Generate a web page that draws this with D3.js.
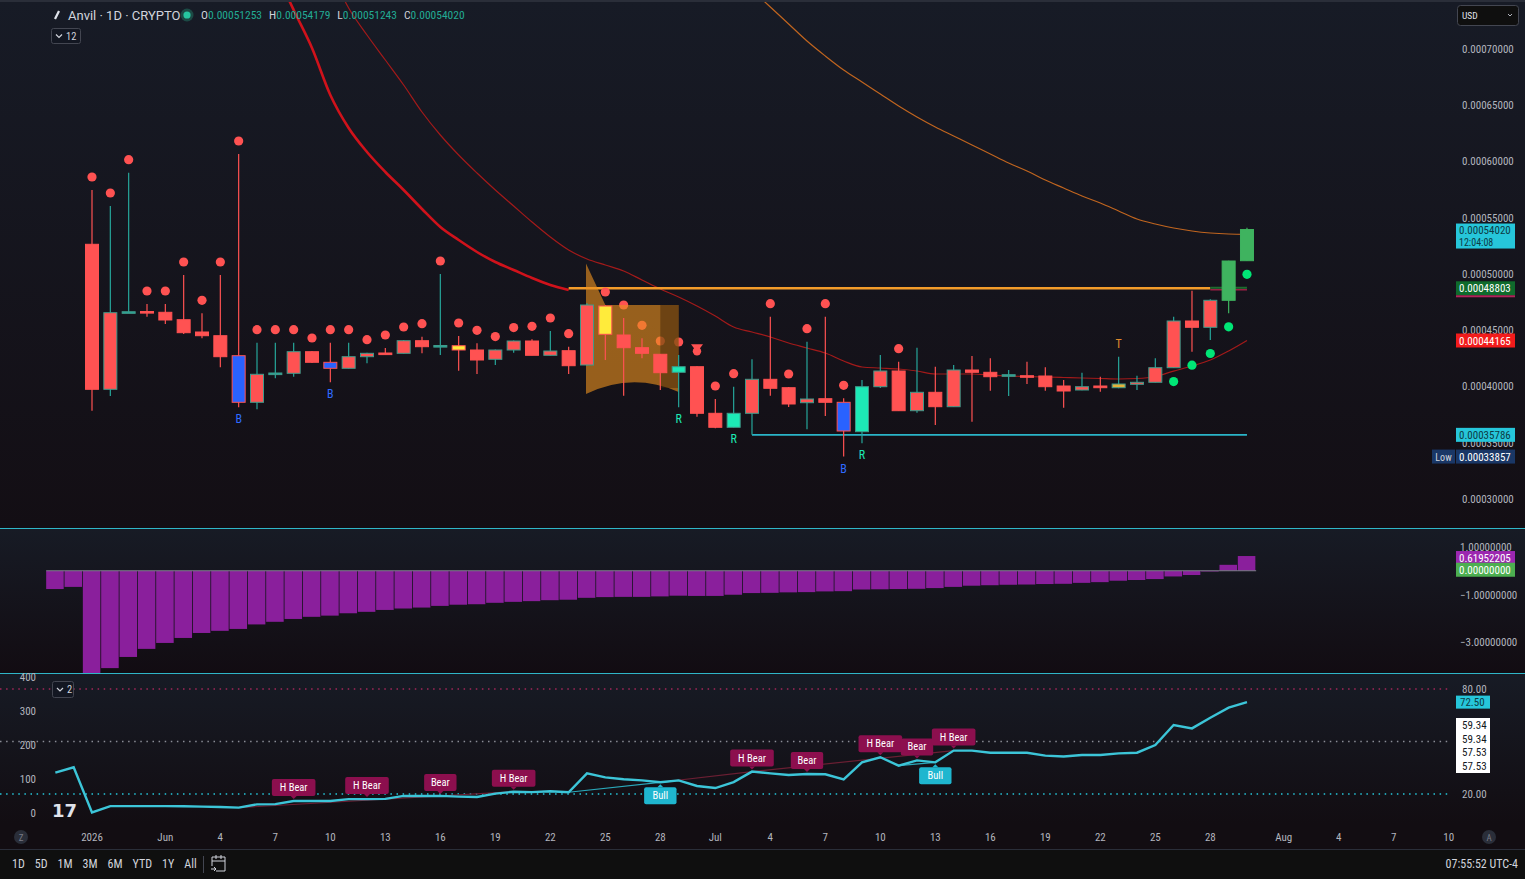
<!DOCTYPE html>
<html>
<head>
<meta charset="utf-8">
<script src="https://cdn.jsdelivr.net/npm/d3@7"></script>
<style>
  body { margin: 0; background: #131722; overflow: hidden; }
  text { font-family: "Liberation Sans Narrow", "Roboto Condensed", Roboto, sans-serif; }
</style>
</head>
<body>
<script>
// ---- data (prices) ----
var firstCandle = new Date(Date.UTC(2026, 4, 28));   // May 28
var firstIndicator = new Date(Date.UTC(2026, 4, 26)); // indicators start 2 bars earlier

var open  = [0.00052709,0.00039831,0.00046680,0.00046740,0.00046670,0.00046012,0.00044920,0.00044591,0.00042815,0.00038677,
             0.00041234,0.00041252,0.00043171,0.00042229,0.00041696,0.00042727,0.00043055,0.00043028,0.00044147,0.00043677,
             0.00043703,0.00043322,0.00042496,0.00043322,0.00044121,0.00042851,0.00043259,0.00041989,0.00047229,0.00044654,
             0.00043526,0.00042940,0.00041341,0.00041838,0.00037700,0.00036456,0.00037700,0.00040719,0.00039973,0.00038641,
             0.00038996,0.00038677,0.00036066,0.00040062,0.00041456,0.00037931,0.00039565,0.00038286,0.00041545,0.00041341,
             0.00041075,0.00041039,0.00041012,0.00040124,0.00039769,0.00040124,0.00039973,0.00040275,0.00040453,0.00041750,
             0.00045897,0.00045337,0.00047735,0.00051253];
var high  = [0.00057531,0.00056110,0.00059068,0.00047407,0.00047407,0.00049982,0.00046581,0.00049982,0.00060728,0.00043970,
             0.00043970,0.00043970,0.00043233,0.00043970,0.00043970,0.00043082,0.00043499,0.00044210,0.00044503,0.00050071,
             0.00044565,0.00043917,0.00043360,0.00044160,0.00044272,0.00045009,0.00043615,0.00047469,0.00047318,0.00046163,
             0.00044361,0.00042966,0.00042877,0.00041870,0.00038970,0.00040062,0.00042496,0.00046279,0.00040036,0.00044059,
             0.00046279,0.00039032,0.00040657,0.00042877,0.00042283,0.00043526,0.00041838,0.00041989,0.00042789,0.00042584,
             0.00041545,0.00042283,0.00041785,0.00040657,0.00041306,0.00040950,0.00042727,0.00041039,0.00042584,0.00046279,
             0.00048588,0.00047824,0.00051253,0.00054179];
var low   = [0.00037931,0.00039236,0.00046660,0.00046279,0.00045631,0.00044742,0.00044361,0.00041785,0.00038233,0.00038055,
             0.00040808,0.00040950,0.00042167,0.00040453,0.00041680,0.00042140,0.00042922,0.00043010,0.00043028,0.00042877,
             0.00041483,0.00041190,0.00041989,0.00043082,0.00042851,0.00042833,0.00041190,0.00041945,0.00042433,0.00039263,
             0.00042584,0.00039769,0.00038233,0.00037398,0.00036368,0.00036440,0.00035786,0.00039263,0.00038259,0.00036279,
             0.00037460,0.00033857,0.00035036,0.00039947,0.00037931,0.00037753,0.00036661,0.00038259,0.00036954,0.00039707,
             0.00039236,0.00040302,0.00039707,0.00038197,0.00039740,0.00039618,0.00039920,0.00039769,0.00040435,0.00041720,
             0.00043171,0.00044210,0.00046581,0.00051243];
var close = [0.00039831,0.00046634,0.00046720,0.00046696,0.00045986,0.00044858,0.00044591,0.00042727,0.00038677,0.00041163,
             0.00041279,0.00043171,0.00042229,0.00041696,0.00042727,0.00043028,0.00043002,0.00044147,0.00043615,0.00043721,
             0.00043322,0.00042433,0.00043322,0.00044121,0.00042851,0.00043233,0.00041927,0.00047318,0.00044716,0.00043526,
             0.00043028,0.00041306,0.00041838,0.00037700,0.00036456,0.00037700,0.00040719,0.00039920,0.00038526,0.00038970,
             0.00038677,0.00036128,0.00040062,0.00041456,0.00037931,0.00039565,0.00038286,0.00041545,0.00041341,0.00040950,
             0.00041128,0.00040986,0.00040062,0.00039680,0.00040062,0.00039973,0.00040302,0.00040453,0.00041750,0.00045897,
             0.00045337,0.00047735,0.00051226,0.00054020];
// bar colour from the trend indicator: r red, b blue, y yellow, o amber, a aqua, t teal, g green
var barColour = "rrtrrrrrbrtrrbrrrrrtyrrrrrrryrrrarrarrrrrbarrrrrrrtrrrrrorrrrrgg".split("");

var redDots   = [0,1,2,3,4,5,6,7,8,9,10,11,12,13,14,15,16,17,18,19,20,21,22,23,24,25,26,28,29,30,31,32,34,35,37,38,39,40,41,44];
var greenDots = [59,60,61,62,63];
var bearArrow = [33];
var letters = [{i:8, t:"B"}, {i:13, t:"B"}, {i:41, t:"B"}, {i:32, t:"R"}, {i:35, t:"R"}, {i:42, t:"R"}, {i:56, t:"T", above:true}];

// moving averages, [bar index, value]
var fastMA = [[9,0.00081000],[10,0.00077069],[11,0.00073517],[12,0.00070142],[13,0.00065968],[14,0.00063037],[15,0.00060906],
              [16,0.00059130],[17,0.00057531],[18,0.00055844],[19,0.00054245],[20,0.00053091],[21,0.00052025],[22,0.00051137],
              [23,0.00050426],[24,0.00049716],[25,0.00049094],[26,0.00048650]];
var midMA = [[13,0.00077000],[14,0.00073695],[15,0.00071297],[16,0.00069076],[17,0.00066856],[18,0.00064458],[19,0.00062416],
             [20,0.00060639],[21,0.00059041],[22,0.00057531],[23,0.00056110],[24,0.00054689],[25,0.00053357],[26,0.00052203],
             [27,0.00051403],[28,0.00050870],[29,0.00050337],[30,0.00049538],[31,0.00048739],[32,0.00048028],[33,0.00047229],
             [34,0.00046341],[35,0.00045364],[36,0.00044920],[37,0.00044476],[38,0.00043943],[39,0.00043499],[40,0.00043055],
             [41,0.00042345],[42,0.00041812],[43,0.00041723],[44,0.00041634],[45,0.00041456],[46,0.00041190],[47,0.00041190],
             [48,0.00041190],[49,0.00041101],[50,0.00041012],[51,0.00040968],[52,0.00040924],[53,0.00040879],[54,0.00040835],
             [55,0.00040790],[56,0.00040746],[57,0.00040790],[58,0.00040970],[59,0.00041450],[60,0.00041901],[61,0.00042433],
             [62,0.00043233],[63,0.00044165]];
var slowMA = [[36,0.00075293],[37,0.00073783],[38,0.00072274],[39,0.00070764],[40,0.00069432],[41,0.00068188],[42,0.00067123],
              [43,0.00066057],[44,0.00064991],[45,0.00064014],[46,0.00063126],[47,0.00062327],[48,0.00061528],[49,0.00060728],
              [50,0.00059929],[51,0.00059218],[52,0.00058419],[53,0.00057709],[54,0.00056998],[55,0.00056377],[56,0.00055666],
              [57,0.00054956],[58,0.00054512],[59,0.00054156],[60,0.00053890],[61,0.00053712],[62,0.00053623],[63,0.00053597]];

var resistance = {from: 26, to: 61, price: 0.00048803};
var support    = {from: 36, to: 63, price: 0.00035786};
var zone = {from: 27, tip: 28, to: 32, spike: 0.00051000, top: 0.00047318, bottom: 0.00039590, sag: 0.00040500};

var priceTicks = [0.0003, 0.00035, 0.0004, 0.00045, 0.0005, 0.00055, 0.0006, 0.00065, 0.0007];

// histogram pane (starts 2 bars before the first candle)
var histo = [-0.77,-0.68,-4.5,-4.1,-3.63,-3.29,-3.04,-2.83,-2.62,-2.53,-2.45,-2.26,-2.15,-2.03,-1.94,-1.89,-1.79,-1.73,
             -1.65,-1.59,-1.55,-1.48,-1.43,-1.41,-1.35,-1.31,-1.28,-1.24,-1.22,-1.14,-1.11,-1.10,-1.10,-1.08,-1.05,-1.06,
             -1.06,-1.01,-0.94,-0.93,-0.91,-0.90,-0.87,-0.86,-0.79,-0.78,-0.77,-0.76,-0.73,-0.68,-0.63,-0.61,-0.59,-0.58,
             -0.56,-0.55,-0.51,-0.48,-0.42,-0.39,-0.35,-0.24,-0.18,-0.03,0.25,0.62];
var histoTicks = [1, -1, -3];

// oscillator pane
var osc = [32.2,35.3,9.5,13.1,13.1,13.1,13.1,13.0,12.8,12.6,12.2,14.1,14.2,16.0,16.0,16.0,17.1,17.1,17.2,18.9,18.9,18.9,
           18.5,18.3,20.2,21.3,21.1,21.6,21.0,31.8,29.5,28.4,27.8,26.7,27.8,24.6,23.4,26.8,32.8,31.8,30.9,31.4,31.3,28.4,
           38.1,41.0,36.2,39.2,38.1,44.8,44.8,43.6,43.6,43.6,41.9,41.4,42.3,42.3,43.2,43.6,48.0,59.4,57.5,63.6,69.3,72.5];
var oscLevels = [{v:80, c:"#a3275a"}, {v:50, c:"#8a8d96"}, {v:20, c:"#26c6da"}];
var oscLeftTicks = [0, 100, 200, 300, 400];
var oscStack = [59.34, 59.34, 57.53, 57.53];
var divLabels = [{i:11,t:"H Bear"},{i:15,t:"H Bear"},{i:19,t:"Bear"},{i:23,t:"H Bear"},{i:31,t:"Bull"},{i:36,t:"H Bear"},
                 {i:39,t:"Bear"},{i:43,t:"H Bear"},{i:45,t:"Bear"},{i:46,t:"Bull"},{i:47,t:"H Bear"}];
var divLines = [{a:8,b:23,bull:false},{a:26,b:32,bull:true},{a:31,b:36,bull:false},{a:36,b:47,bull:false},{a:44,b:46,bull:true}];

var timeTicks = [[2026,4,28,"2026"],[2026,5,1,"Jun"],[2026,5,4,"4"],[2026,5,7,"7"],[2026,5,10,"10"],[2026,5,13,"13"],
                 [2026,5,16,"16"],[2026,5,19,"19"],[2026,5,22,"22"],[2026,5,25,"25"],[2026,5,28,"28"],[2026,6,1,"Jul"],
                 [2026,6,4,"4"],[2026,6,7,"7"],[2026,6,10,"10"],[2026,6,13,"13"],[2026,6,16,"16"],[2026,6,19,"19"],
                 [2026,6,22,"22"],[2026,6,25,"25"],[2026,6,28,"28"],[2026,7,1,"Aug"],[2026,7,4,"4"],[2026,7,7,"7"],[2026,7,10,"10"]];
var ranges = ["1D","5D","1M","3M","6M","YTD","1Y","All"];

// ---- layout ----
var W = 1525, H = 879, plotRight = 1450;
var svg = d3.select("body").append("svg").attr("width", W).attr("height", H);
var defs = svg.append("defs");

function grad(id, c0, c1) {
  var g = defs.append("linearGradient").attr("id", id).attr("x1", 0).attr("x2", 0).attr("y1", 0).attr("y2", 1);
  g.append("stop").attr("offset", "0%").attr("stop-color", c0);
  g.append("stop").attr("offset", "100%").attr("stop-color", c1);
}
grad("gMain", "#171b26", "#130e14");
grad("gHist", "#171b25", "#120c12");
grad("gOsc", "#171b25", "#120d12");

svg.append("rect").attr("width", W).attr("height", 528).attr("fill", "url(#gMain)");
svg.append("rect").attr("y", 529).attr("width", W).attr("height", 144).attr("fill", "url(#gHist)");
svg.append("rect").attr("y", 674).attr("width", W).attr("height", 149).attr("fill", "url(#gOsc)");
svg.append("rect").attr("y", 823).attr("width", W).attr("height", 26).attr("fill", "#120d12");
svg.append("rect").attr("y", 849).attr("width", W).attr("height", 30).attr("fill", "#0f0f0f");
svg.append("line").attr("x1", 0).attr("x2", W).attr("y1", 849.5).attr("y2", 849.5).attr("stroke", "#2a2e39");
svg.append("line").attr("x1", 0).attr("x2", W).attr("y1", 1).attr("y2", 1).attr("stroke", "#2a2e39").attr("stroke-width", 2);
[528.5, 673.5].forEach(function(y) {
  svg.append("line").attr("x1", 0).attr("x2", W).attr("y1", y).attr("y2", y).attr("stroke", "#2fb6c8");
});

defs.append("clipPath").attr("id", "cMain").append("rect").attr("x", 0).attr("y", 2).attr("width", plotRight).attr("height", 526);
defs.append("clipPath").attr("id", "cHist").append("rect").attr("x", 0).attr("y", 529).attr("width", plotRight).attr("height", 144);
defs.append("clipPath").attr("id", "cOsc").append("rect").attr("x", 0).attr("y", 674).attr("width", plotRight).attr("height", 148);

var dayW = 18.333;
var x = d3.scaleUtc().domain([firstCandle, new Date(Date.UTC(2026, 7, 10))]).range([92, 92 + 74 * dayW]);
var y = d3.scaleLinear().domain([0.0003, 0.0007]).range([500, 49.6]);
function cx(i) { return x(d3.utcDay.offset(firstCandle, i)); }
function ix(i) { return x(d3.utcDay.offset(firstIndicator, i)); }

var colours = {r:"#ff5252", b:"#2962ff", y:"#ffeb3b", o:"#e5b13a", a:"#1de9b6", t:"#26a69a", g:"#3fb35f"};
var upCol = "#26a69a", downCol = "#ff5252";

var candles = d3.range(open.length).map(function(i) {
  return {i: i, o: open[i], h: high[i], l: low[i], c: close[i], col: colours[barColour[i]]};
});

// ---- main pane ----
var main = svg.append("g").attr("clip-path", "url(#cMain)");

var lineGen = d3.line().x(function(d) { return cx(d[0]); }).y(function(d) { return y(d[1]); }).curve(d3.curveMonotoneX);
main.append("path").datum(slowMA).attr("d", lineGen).attr("fill", "none").attr("stroke", "#c0651f").attr("stroke-width", 1.2);
main.append("path").datum(midMA).attr("d", lineGen).attr("fill", "none").attr("stroke", "#a31a1a").attr("stroke-width", 1.2);
main.append("path").datum(fastMA).attr("d", lineGen).attr("fill", "none").attr("stroke", "#d0121b").attr("stroke-width", 2.6);

main.append("line").attr("x1", cx(resistance.from)).attr("x2", cx(resistance.to))
  .attr("y1", y(resistance.price)).attr("y2", y(resistance.price)).attr("stroke", "#f39c2a").attr("stroke-width", 2.5);
main.append("line").attr("x1", cx(resistance.to)).attr("x2", cx(63))
  .attr("y1", y(resistance.price) + 1.5).attr("y2", y(resistance.price) + 1.5).attr("stroke", "#9c1f45").attr("stroke-width", 1.5);
main.append("line").attr("x1", cx(resistance.to)).attr("x2", cx(63))
  .attr("y1", y(resistance.price) - 0.5).attr("y2", y(resistance.price) - 0.5).attr("stroke", "#1e6b2e").attr("stroke-width", 2);
main.append("line").attr("x1", cx(support.from)).attr("x2", cx(support.to))
  .attr("y1", y(support.price)).attr("y2", y(support.price)).attr("stroke", "#2ab4c8").attr("stroke-width", 1.8);

// red markers above, green below
main.selectAll("circle.rd").data(redDots).enter().append("circle").attr("class", "rd")
  .attr("cx", function(i) { return cx(i); }).attr("cy", function(i) { return y(high[i]) - 13; })
  .attr("r", 4.6).attr("fill", "#ff5252");
main.selectAll("circle.gd").data(greenDots).enter().append("circle").attr("class", "gd")
  .attr("cx", function(i) { return cx(i); }).attr("cy", function(i) { return y(low[i]) + 13.5; })
  .attr("r", 4.6).attr("fill", "#00e676");
bearArrow.forEach(function(i) {
  var px = cx(i), py = y(high[i]) - 17;
  main.append("path").attr("d", "M" + (px - 6) + "," + (py - 5) + "L" + (px + 6) + "," + (py - 5) + "L" + px + "," + (py + 3) + "Z").attr("fill", "#ff5252");
  main.append("circle").attr("cx", px).attr("cy", py + 2).attr("r", 4.2).attr("fill", "#ff5252");
});

// orange zone
var zx0 = cx(zone.from) - 1, zx1 = cx(zone.to), zxTip = cx(zone.tip), zxMid = (zx0 + zx1) / 2;
var zPath = "M" + zx0 + "," + y(zone.spike) + "L" + zxTip + "," + y(zone.top) + "L" + zx1 + "," + y(zone.top) +
  "L" + zx1 + "," + y(zone.bottom) + "Q" + zxMid + "," + (2 * y(zone.sag) - y(zone.bottom)) + " " + zx0 + "," + (y(zone.bottom) + 2) + "Z";
main.append("path").attr("d", zPath).attr("fill", "#e8901e").attr("fill-opacity", 0.62);
main.append("rect").attr("x", cx(zone.to - 1)).attr("y", y(zone.top)).attr("width", zx1 - cx(zone.to - 1))
  .attr("height", y(zone.bottom) - y(zone.top) - 4).attr("fill", "#3a2208").attr("fill-opacity", 0.45);

// candles
var bodyW = 13;
var cg = main.selectAll("g.candle").data(candles).enter().append("g").attr("class", "candle");
cg.append("line")
  .attr("x1", function(d) { return cx(d.i); }).attr("x2", function(d) { return cx(d.i); })
  .attr("y1", function(d) { return y(d.h); }).attr("y2", function(d) { return y(d.l); })
  .attr("stroke", function(d) { return barColour[d.i] == "g" ? d.col : (d.c >= d.o ? upCol : downCol); })
  .attr("stroke-width", 1.2);
cg.append("rect")
  .attr("x", function(d) { return cx(d.i) - bodyW / 2; })
  .attr("y", function(d) { return y(Math.max(d.o, d.c)); })
  .attr("width", bodyW)
  .attr("height", function(d) { return Math.max(1.6, Math.abs(y(d.o) - y(d.c))); })
  .attr("fill", function(d) { return d.col; })
  .attr("stroke", function(d) { return barColour[d.i] == "g" ? d.col : (d.c >= d.o ? "#3f9a8a" : downCol); })
  .attr("stroke-width", 1);

main.selectAll("text.lt").data(letters).enter().append("text").attr("class", "lt")
  .attr("x", function(d) { return cx(d.i); })
  .attr("y", function(d) { return d.above ? y(high[d.i]) - 9 : y(low[d.i]) + 16; })
  .attr("text-anchor", "middle").attr("font-size", 12)
  .attr("fill", function(d) { return d.t == "B" ? "#2f6bff" : d.t == "R" ? "#1de9b6" : "#e08a2c"; })
  .text(function(d) { return d.t; });

// price axis
svg.selectAll("text.pt").data(priceTicks).enter().append("text").attr("class", "pt")
  .attr("x", 1462).attr("y", function(d) { return y(d) + 3; })
  .attr("font-size", 11).attr("fill", "#b2b5be").text(function(d) { return d.toFixed(8); });

function tag(yc, txt, bg, fg, w, h) {
  w = w || 59; h = h || 14;
  svg.append("rect").attr("x", 1456).attr("y", yc - h / 2).attr("width", w).attr("height", h).attr("fill", bg);
  svg.append("text").attr("x", 1459).attr("y", yc + 4).attr("font-size", 11).attr("fill", fg).text(txt);
}
// last price (two lines)
var lastY = y(close[63]);
svg.append("rect").attr("x", 1456).attr("y", lastY - 6).attr("width", 59).attr("height", 25).attr("fill", "#26c6da");
svg.append("text").attr("x", 1459).attr("y", lastY + 4).attr("font-size", 11).attr("fill", "#0d3b44").text(close[63].toFixed(8));
svg.append("text").attr("x", 1459).attr("y", lastY + 16).attr("font-size", 10).attr("fill", "#0d3b44").text("12:04:08");
tag(y(resistance.price), resistance.price.toFixed(8), "#0f6b2c", "#ffffff");
svg.append("rect").attr("x", 1456).attr("y", y(resistance.price) + 7).attr("width", 59).attr("height", 2).attr("fill", "#b0245a");
tag(y(midMA[midMA.length - 1][1]), midMA[midMA.length - 1][1].toFixed(8), "#f21b1b", "#ffffff");
tag(y(support.price), support.price.toFixed(8), "#26c6da", "#0d3b44");
var lowY = y(d3.min(low));
tag(lowY, d3.min(low).toFixed(8), "#1a3766", "#ffffff");
svg.append("rect").attr("x", 1432).attr("y", lowY - 7).attr("width", 23).attr("height", 14).attr("fill", "#1a3766");
svg.append("text").attr("x", 1443.5).attr("y", lowY + 4).attr("text-anchor", "middle").attr("font-size", 10).attr("fill", "#d1d4dc").text("Low");

// ---- histogram pane ----
var yh = d3.scaleLinear().domain([-3, 1]).range([642, 547]);
var hist = svg.append("g").attr("clip-path", "url(#cHist)");
hist.selectAll("rect").data(histo).enter().append("rect")
  .attr("x", function(d, i) { return ix(i) - dayW / 2; })
  .attr("width", dayW - 0.8)
  .attr("y", function(d) { return Math.min(yh(d), yh(0)); })
  .attr("height", function(d) { return Math.abs(yh(d) - yh(0)); })
  .attr("fill", "#8a1f9c");
hist.append("line").attr("x1", ix(0) - dayW / 2).attr("x2", ix(histo.length - 1) + dayW / 2)
  .attr("y1", yh(0)).attr("y2", yh(0)).attr("stroke", "#7b7e88").attr("stroke-width", 1.2);
svg.selectAll("text.ht").data(histoTicks).enter().append("text").attr("class", "ht")
  .attr("x", 1460).attr("y", function(d) { return yh(d) + 4; })
  .attr("font-size", 11).attr("fill", "#b2b5be").text(function(d) { return (d < 0 ? "\u2212" : "") + Math.abs(d).toFixed(8); });
tag(yh(histo[histo.length - 1]) + 2, "0.61952205", "#9c27b0", "#ffffff");
tag(yh(0) - 1, "0.00000000", "#4caf50", "#ffffff");

// ---- oscillator pane ----
var yo = d3.scaleLinear().domain([20, 80]).range([794, 689]);
var yl = d3.scaleLinear().domain([0, 400]).range([813, 677]);
var oscG = svg.append("g").attr("clip-path", "url(#cOsc)");
oscLevels.forEach(function(l) {
  oscG.append("line").attr("x1", 0).attr("x2", plotRight).attr("y1", yo(l.v)).attr("y2", yo(l.v))
    .attr("stroke", l.c).attr("stroke-width", 1.5).attr("stroke-dasharray", "1.5,4.6");
});
divLines.forEach(function(d) {
  oscG.append("line").attr("x1", ix(d.a + 2)).attr("x2", ix(d.b + 2)).attr("y1", yo(osc[d.a + 2])).attr("y2", yo(osc[d.b + 2]))
    .attr("stroke", d.bull ? "#2aa9bb" : "#6b1f33").attr("stroke-width", 1.2);
});
oscG.append("path").datum(osc)
  .attr("d", d3.line().x(function(d, i) { return ix(i); }).y(function(d) { return yo(d); }))
  .attr("fill", "none").attr("stroke", "#3cc5d8").attr("stroke-width", 2.4);

divLabels.forEach(function(d) {
  var px = cx(d.i), py = yo(osc[d.i + 2]);
  var bull = d.t == "Bull";
  var w = d.t.length * 5.6 + 10, h = 17;
  var top = bull ? py + 5 : py - 5 - h;
  var col = bull ? "#1fb6cf" : "#8c0f4e";
  oscG.append("rect").attr("x", px - w / 2).attr("y", top).attr("width", w).attr("height", h).attr("rx", 2).attr("fill", col);
  var tip = bull ? "M" + (px - 3) + "," + top + "L" + px + "," + (top - 3) + "L" + (px + 3) + "," + top + "Z"
                 : "M" + (px - 3) + "," + (top + h) + "L" + px + "," + (top + h + 3) + "L" + (px + 3) + "," + (top + h) + "Z";
  oscG.append("path").attr("d", tip).attr("fill", col);
  oscG.append("text").attr("x", px).attr("y", top + 12).attr("text-anchor", "middle").attr("font-size", 10.5)
    .attr("fill", "#ffffff").text(d.t);
});

svg.selectAll("text.ol").data(oscLeftTicks).enter().append("text").attr("class", "ol")
  .attr("x", 36).attr("y", function(d) { return yl(d) + 4; }).attr("text-anchor", "end")
  .attr("font-size", 11).attr("fill", "#b2b5be").text(function(d) { return d; });
oscLevels.forEach(function(l) {
  if (l.v == 50) return;
  svg.append("text").attr("x", 1462).attr("y", yo(l.v) + 4).attr("font-size", 11).attr("fill", "#b2b5be").text(l.v.toFixed(2));
});
svg.append("rect").attr("x", 1456).attr("y", yo(osc[osc.length - 1]) - 6.5).attr("width", 34).attr("height", 13).attr("fill", "#26c6da");
svg.append("text").attr("x", 1460).attr("y", yo(osc[osc.length - 1]) + 4).attr("font-size", 11).attr("fill", "#0d3b44").text(osc[osc.length - 1].toFixed(2));
svg.append("rect").attr("x", 1456).attr("y", 718).attr("width", 34).attr("height", 55).attr("fill", "#ffffff");
oscStack.forEach(function(v, k) {
  svg.append("text").attr("x", 1462).attr("y", 729 + k * 13.5).attr("font-size", 11).attr("fill", "#131722").text(v.toFixed(2));
});

// ---- time axis ----
svg.selectAll("text.tt").data(timeTicks).enter().append("text").attr("class", "tt")
  .attr("x", function(d) { return x(new Date(Date.UTC(d[0], d[1], d[2]))); })
  .attr("y", 841).attr("text-anchor", "middle").attr("font-size", 11).attr("fill", "#b2b5be")
  .text(function(d) { return d[3]; });
[[21, "Z"], [1489, "A"]].forEach(function(b) {
  svg.append("circle").attr("cx", b[0]).attr("cy", 837).attr("r", 7).attr("fill", "#2a2e39");
  svg.append("text").attr("x", b[0]).attr("y", 840.5).attr("text-anchor", "middle").attr("font-size", 9).attr("fill", "#787b86").text(b[1]);
});

// ---- header & controls ----
svg.append("line").attr("x1", 55).attr("y1", 19).attr("x2", 59).attr("y2", 11).attr("stroke", "#e0e3eb").attr("stroke-width", 2.2);
svg.append("text").attr("x", 68).attr("y", 19.5).attr("font-size", 13).attr("fill", "#d1d4dc")
  .style("font-family", "Roboto, sans-serif").text("Anvil \u00b7 1D \u00b7 CRYPTO");
svg.append("circle").attr("cx", 187).attr("cy", 15).attr("r", 6.5).attr("fill", "#1c4a45");
svg.append("circle").attr("cx", 187).attr("cy", 15).attr("r", 3.6).attr("fill", "#26c6a0");
var ohlc = svg.append("text").attr("x", 201).attr("y", 19).attr("font-size", 11.5);
[["O", open[63]], ["H", high[63]], ["L", low[63]], ["C", close[63]]].forEach(function(p, k) {
  ohlc.append("tspan").attr("fill", "#d1d4dc").attr("dx", k ? 7 : 0).text(p[0]);
  ohlc.append("tspan").attr("fill", "#22ab94").text(p[1].toFixed(8));
});

function collapse(x0, y0, w, h, n) {
  svg.append("rect").attr("x", x0 + 0.5).attr("y", y0 + 0.5).attr("width", w).attr("height", h).attr("rx", 2)
    .attr("fill", "#131722").attr("stroke", "#434651");
  svg.append("path").attr("d", "M" + (x0 + 5) + "," + (y0 + h / 2 - 1) + "l3,3l3,-3").attr("fill", "none").attr("stroke", "#d1d4dc").attr("stroke-width", 1.2);
  svg.append("text").attr("x", x0 + 15).attr("y", y0 + h / 2 + 4).attr("font-size", 10.5).attr("fill", "#d1d4dc").text(n);
}
collapse(51, 28, 29, 15, "12");
collapse(52, 681, 21, 16, "2");

svg.append("rect").attr("x", 1457.5).attr("y", 5.5).attr("width", 61).attr("height", 20).attr("rx", 3)
  .attr("fill", "#0f0f0f").attr("stroke", "#434651");
svg.append("text").attr("x", 1462).attr("y", 19).attr("font-size", 9.5).attr("fill", "#e0e3eb").text("USD");
svg.append("path").attr("d", "M1508,14l2,2l2,-2").attr("fill", "none").attr("stroke", "#b2b5be");

// TradingView mark
svg.append("text").attr("x", 52).attr("y", 817).attr("font-size", 18).attr("font-weight", 900)
  .attr("fill", "#e0e3eb").style("font-family", "DejaVu Sans, sans-serif").text("17");

// bottom toolbar
var rx = 12;
ranges.forEach(function(r) {
  var t = svg.append("text").attr("x", rx).attr("y", 868).attr("font-size", 12).attr("fill", "#d1d4dc").text(r);
  rx += t.node().getComputedTextLength() + 10;
});
svg.append("line").attr("x1", 203.5).attr("x2", 203.5).attr("y1", 856).attr("y2", 873).attr("stroke", "#434651");
svg.append("path").attr("d", "M212,857h13v14h-9M212,857v9M212,861h13M216,855v4M221,855v4M211,869h5l-2,-2M216,869l-2,2")
  .attr("fill", "none").attr("stroke", "#d1d4dc").attr("stroke-width", 1);
svg.append("text").attr("x", 1518).attr("y", 868).attr("text-anchor", "end").attr("font-size", 12).attr("fill", "#d1d4dc").text("07:55:52 UTC-4");
</script>
</body>
</html>
